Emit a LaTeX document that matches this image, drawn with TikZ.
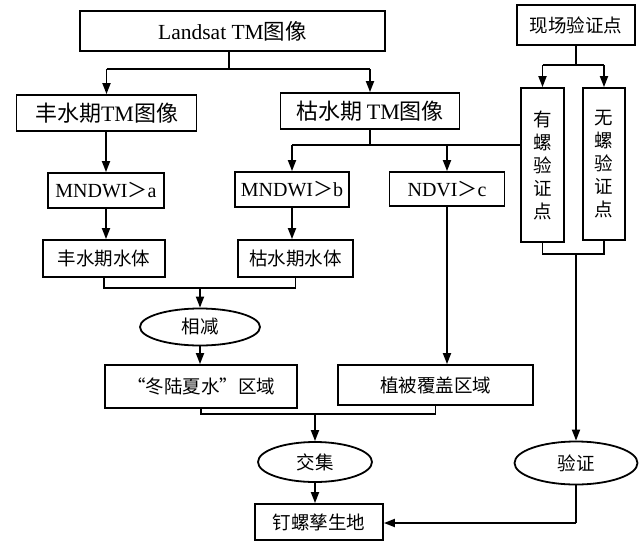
\documentclass[tikz,border=0pt]{standalone}
\usepackage{fontspec}
\setmainfont{Liberation Serif}
\newfontfamily\cjk{Noto Sans CJK SC}
\usetikzlibrary{arrows.meta,shapes.geometric}
\newcommand\lat[1]{{\rmfamily #1}}
\begin{document}
\begin{tikzpicture}[x=1pt,y=1pt,
  every node/.style={font=\cjk\fontsize{18.5}{22}\selectfont, inner sep=0pt},
  box/.style={draw, line width=1.8pt, rectangle},
  oval/.style={draw, line width=1.8pt, ellipse},
  ln/.style={line width=1.8pt},
  arr/.style={line width=1.8pt, -{Triangle[length=11pt,width=8pt]}}
]
\useasboundingbox (0,0) rectangle (640,-541);

% nodes
\node[box, minimum width=305, minimum height=40] (land) at (232.5,-31)
  {\fontsize{21.5}{24}\selectfont\lat{Landsat TM}图像};
\node[box, minimum width=118, minimum height=40] (xc) at (576,-25) {现场验证点};
\node[box, minimum width=180, minimum height=36] (feng) at (106.5,-113)
  {\fontsize{22}{24}\selectfont 丰水期\lat{TM}图像};
\node[box, minimum width=179, minimum height=36] (ku) at (370,-111)
  {\fontsize{22}{24}\selectfont 枯水期 \lat{TM}图像};
\node[box, minimum width=43, minimum height=154, align=center, font=\cjk\fontsize{18.5}{23}\selectfont] (you) at (542.5,-165)
  {有\\螺\\验\\证\\点};
\node[box, minimum width=42, minimum height=152, align=center, font=\cjk\fontsize{18.5}{23}\selectfont] (wu) at (604,-164)
  {无\\螺\\验\\证\\点};
\node[box, minimum width=116, minimum height=35] (ma) at (106,-190.5)
  {\fontsize{20}{22}\selectfont\lat{MNDWI}＞\lat{a}};
\node[box, minimum width=114, minimum height=35] (mb) at (292,-189.5)
  {\fontsize{20}{22}\selectfont\lat{MNDWI}＞\lat{b}};
\node[box, minimum width=115, minimum height=34] (nd) at (447,-189)
  {\fontsize{20}{22}\selectfont\lat{NDVI}＞\lat{c}};
\node[box, minimum width=122, minimum height=37] (fw) at (104,-258.5) {丰水期水体};
\node[box, minimum width=115, minimum height=37] (kw) at (295.5,-258.5) {枯水期水体};
\node[oval, minimum width=120, minimum height=37] (xj) at (200,-327) {相减};
\node[box, minimum width=192, minimum height=43] (dl) at (201,-386.5) {“冬陆夏水”区域};
\node[box, minimum width=195, minimum height=40] (zb) at (435.5,-385) {植被覆盖区域};
\node[oval, minimum width=114, minimum height=40] (jj) at (315,-462) {交集};
\node[oval, minimum width=123, minimum height=43] (yz) at (576,-463) {验证};
\node[box, minimum width=128, minimum height=36] (dd) at (319,-522) {钉螺孳生地};

% junction coordinates
\coordinate (j1) at (229,-69);
\coordinate (j2) at (370,-145);
\coordinate (j3) at (576,-65);
\coordinate (j4) at (200,-288);
\coordinate (j5) at (315,-414);
\coordinate (j6) at (576,-254);
\coordinate (j7) at (576,-523);

% Landsat -> two seasons
\draw[ln] (land.south -| j1) -- (j1);
\draw[ln] (j1 -| feng.north) -- (j1 -| ku.north);
\draw[arr] (j1 -| feng.north) -- (feng.north);
\draw[arr] (j1 -| ku.north) -- (ku.north);

% field points
\draw[ln] (xc.south) -- (j3);
\draw[ln] (j3 -| you.north) -- (j3 -| wu.north);
\draw[arr] (j3 -| you.north) -- (you.north);
\draw[arr] (j3 -| wu.north) -- (wu.north);

% wet season branch
\draw[arr] (ma.north |- feng.south) -- (ma.north);
\draw[arr] (ma.south) -- (ma.south |- fw.north);

% dry season branch
\draw[ln] (ku.south) -- (j2);
\draw[ln] (j2 -| mb.north) -- (j2 -| you.west);
\draw[arr] (j2 -| mb.north) -- (mb.north);
\draw[arr] (j2 -| nd.north) -- (nd.north);
\draw[arr] (mb.south) -- (mb.south |- kw.north);

% subtraction
\draw[ln] (fw.south) -- (fw.south |- j4) -- (kw.south |- j4) -- (kw.south);
\draw[arr] (j4) -- (xj.north);
\draw[arr] (xj.south) -- (xj.south |- dl.north);

% vegetation
\draw[arr] (nd.south) -- (nd.south |- zb.north);

% intersection
\draw[ln] (dl.south) -- (dl.south |- j5) -- (zb.south |- j5) -- (zb.south);
\draw[arr] (j5) -- (jj.north);
\draw[arr] (jj.south) -- (jj.south |- dd.north);

% validation
\draw[ln] (you.south) -- (you.south |- j6) -- (wu.south |- j6) -- (wu.south);
\draw[arr] (j6) -- (yz.north);
\draw[ln] (yz.south) -- (j7);
\draw[arr] (j7) -- (dd.east |- j7);
\end{tikzpicture}
\end{document}
